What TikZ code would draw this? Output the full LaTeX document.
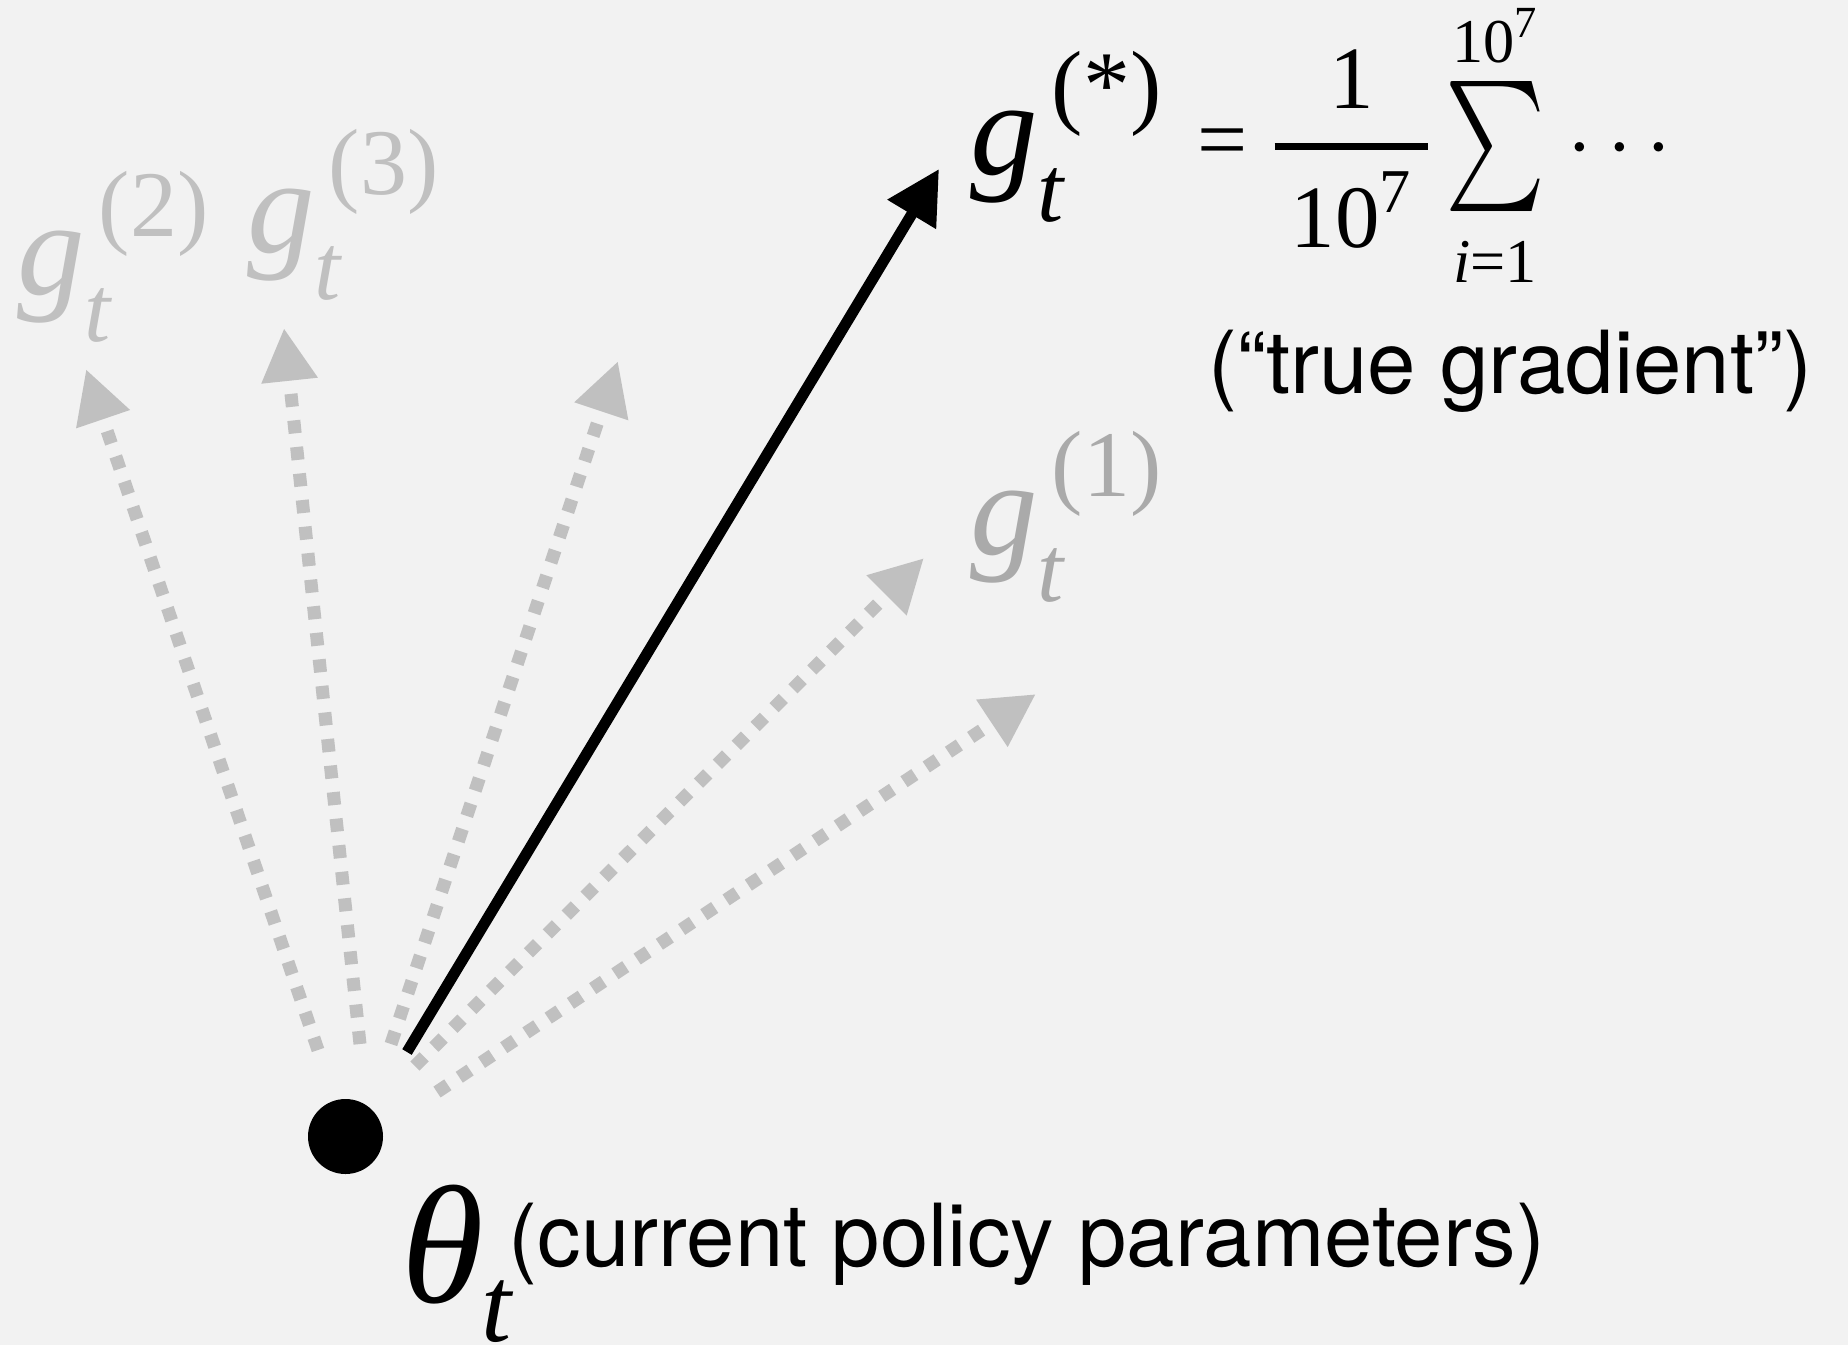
\documentclass[tikz,border=0pt]{standalone}
\usepackage{fix-cm}
\usepackage{amsmath}
\usepackage{graphicx}
\usepackage{fontspec}
\setmainfont{Liberation Serif}
\newfontfamily\helv{TeX Gyre Heros}
\usetikzlibrary{arrows.meta}
\usetikzlibrary{positioning}

\definecolor{bggray}{RGB}{242,242,242}
\definecolor{samplegray}{RGB}{192,192,192}
\definecolor{labelgray}{RGB}{170,170,170}

% g_t^{(k)} set by hand: small t below, (k) above
\newcommand{\gvec}[1]{\textit{g}\rlap{\raisebox{-23.5pt}{\fontsize{47}{50}\selectfont\itshape t}}\kern7pt\raisebox{29pt}{\fontsize{47}{50}\selectfont(#1)}}
\newcommand{\bigsum}{\mathop{\vcenter{\hbox{\resizebox*{50pt}{65pt}{$\sum$}}}}\limits}

\begin{document}
\begin{tikzpicture}
    [x=0.5pt,y=-0.5pt,
samplearrow/.style={samplegray, line width=6.5pt, dash pattern=on 6.5pt off 6.85pt, -{Triangle[length=26.5pt,width=26.5pt]}},
truearrow/.style={black, line width=5.5pt, -{Triangle[length=26.5pt,width=27pt]}},
glabel/.style={inner sep=0pt, anchor=base west, font=\fontsize{67.5}{80}\selectfont},
note/.style={inner sep=0pt, anchor=base west, font=\helv\fontsize{43.5}{52}\selectfont},
paramdot/.style={circle, fill=black, inner sep=0pt, minimum size=37.5pt}
]

\fill[bggray] (0,0) rectangle (1848,1345);
\useasboundingbox (0,0) rectangle (1848,1345);

\node[paramdot](dot) at (345.5,1136.5){};
\node[inner sep=0pt,anchor=base west,font=\fontsize{84}{96}\selectfont](theta) at (401,1302)
  {\textit{θ}\kern-1pt\raisebox{-19.5pt}{\fontsize{54}{60}\selectfont\itshape t}};
\node[note](params)[base right=0pt of theta,xshift=-2pt,yshift=18pt]{(current policy parameters)};

\node[glabel,black](gs) at (970,174){\gvec{*}};
\node[glabel,labelgray](g1) at (970,554){\gvec{1}};
\node[glabel,samplegray](g2) at (17,294){\gvec{2}};
\node[glabel,samplegray](g3) at (247,252){\gvec{3}};

\node[inner sep=0pt,anchor=base west,font=\fontsize{44.5}{54}\selectfont](formula) at (1197,169)
  {$\displaystyle \mathrel{\text{=}}\genfrac{}{}{3.5pt}{0}{\text{1}}{\kern8pt\text{10}^{\text{7}}\kern8pt}\bigsum_{\vrule width0pt height31pt depth0pt\text{\itshape i}\text{=1}}^{\text{10}^{\text{7}}\vrule width0pt height0pt depth7pt}\kern4pt\cdots$};
\node[note](truenote) at (1208,393){(“true gradient”)};

% ends of the sample gradients
\coordinate (s1) at (318,1050); \coordinate (t1) at (86,369);
\coordinate (s2) at (360,1044); \coordinate (t2) at (284,328);
\coordinate (s3) at (391,1044); \coordinate (t3) at (618,361);
\coordinate (s4) at (415,1066); \coordinate (t4) at (924,558);
\coordinate (s5) at (437,1092); \coordinate (t5) at (1036,694);
\coordinate (s0) at (407,1052); \coordinate (t0) at (939,169);

\draw[samplearrow] (s1) -- (t1);
\draw[samplearrow] (s2) -- (t2);
\draw[samplearrow] (s3) -- (t3);
\draw[samplearrow] (s4) -- (t4);
\draw[samplearrow] (s5) -- (t5);

\draw[truearrow] (s0) -- (t0);

\end{tikzpicture}
\end{document}
